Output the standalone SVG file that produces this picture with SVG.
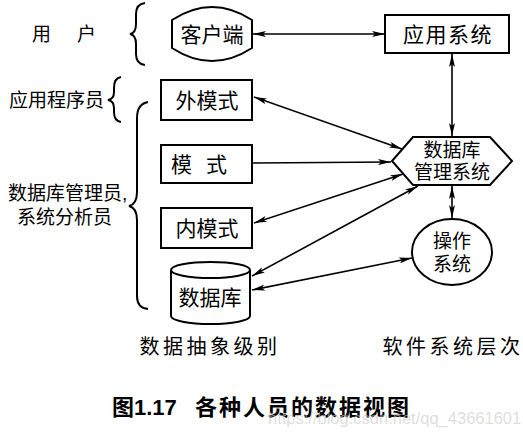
<svg xmlns="http://www.w3.org/2000/svg" width="523" height="435" viewBox="0 0 523 435">
<defs>
<marker id="ah" viewBox="0 0 13 6" refX="13" refY="3" markerWidth="13" markerHeight="6" markerUnits="userSpaceOnUse" orient="auto-start-reverse">
<path d="M0,0 L13,3 L0,6 L3,3 Z" fill="#000"/>
</marker>
</defs>
<style>
.s{fill:#fff;stroke:#000;stroke-width:2}
.t{font-family:"Liberation Sans","Noto Sans CJK SC",sans-serif;font-size:21px;fill:#000;text-anchor:middle;dominant-baseline:central}
.m{font-size:19px}
.l{font-family:"Liberation Sans","Noto Sans CJK SC",sans-serif;font-size:19px;fill:#000;dominant-baseline:central}
.b{fill:none;stroke:#000;stroke-width:2}
.c line{stroke:#000;stroke-width:1.6;marker-end:url(#ah)}
.c line.d{marker-start:url(#ah)}
</style>
<rect width="523" height="435" fill="#fff"/>
<g id="labels">
<text class="l" x="32" y="34" font-size="20">用</text>
<text class="l" x="77" y="34" font-size="20">户</text>
<text class="l" x="9" y="100">应用程序员</text>
<text class="l" x="8" y="193">数据库管理员,</text>
<text class="l" x="17" y="217">系统分析员</text>
<text class="t" x="210" y="347" font-size="20" style="font-size:20px;letter-spacing:3.5px">数据抽象级别</text>
<text class="t" x="453" y="347" style="font-size:20px;letter-spacing:3.5px">软件系统层次</text>
<text x="112" y="407" style="font-family:'Liberation Sans','Noto Sans CJK SC',sans-serif;font-size:22px;font-weight:bold;dominant-baseline:central">图1.17</text>
<text x="195" y="407" style="font-family:'Liberation Sans','Noto Sans CJK SC',sans-serif;font-size:22px;font-weight:bold;letter-spacing:2px;dominant-baseline:central">各种人员的数据视图</text>
<text x="268" y="418" style="font-family:'Liberation Sans',sans-serif;font-size:16.5px;fill:#c8c8c8;fill-opacity:0.6;dominant-baseline:central">https://blog.csdn.net/qq_43661601</text>
</g>
<g id="braces">
<path class="b" d="M145,3 Q136,4 136,14 L136,24 Q136,33 130,34 Q136,35 136,44 L136,54 Q136,64 145,65"/>
<path class="b" d="M121,77 Q114,78 114,88 L114,92 Q114,99 108,100 Q114,101 114,108 L114,112 Q114,121 121,122"/>
<path class="b" d="M148,102 Q137,104 137,118 L137,192 Q137,204 129,206 Q137,208 137,220 L137,296 Q137,308 148,309"/>
</g>
<g id="n_client"><path class="s" d="M172,20 Q212,-6 252,20 L252,48 Q212,74 172,48 Z"/><text class="t" x="212" y="34">客户端</text></g>
<g id="n_app"><rect class="s" x="385" y="15" width="124" height="38"/><text class="t" x="448" y="34" style="letter-spacing:1.5px">应用系统</text></g>
<g id="n_ext"><rect class="s" x="161" y="80" width="91" height="40"/><text class="t" x="207" y="100">外模式</text></g>
<g id="n_schema"><rect class="s" x="161" y="145" width="91" height="38"/><text class="t" x="206" y="164" style="letter-spacing:14px">模式</text></g>
<g id="n_int"><rect class="s" x="161" y="208" width="91" height="40"/><text class="t" x="207" y="228">内模式</text></g>
<g id="n_db"><path class="s" d="M171,270 L171,316 A39.5,8 0 0 0 250,316 L250,270"/><ellipse class="s" cx="210.5" cy="270" rx="39.5" ry="8"/><text class="t" x="210" y="297">数据库</text></g>
<g id="n_dbms"><polygon class="s" points="392,161 413,137 490,137 512,161 490,185 413,185"/><text class="t m" x="452" y="150">数据库</text><text class="t m" x="452" y="172">管理系统</text></g>
<g id="n_os"><ellipse class="s" cx="452" cy="252" rx="40" ry="33"/><text class="t m" x="452" y="241">操作</text><text class="t m" x="452" y="264">系统</text></g>
<g id="connectors" class="c">
<line class="d" x1="253" y1="34" x2="385" y2="34"/>
<line class="d" x1="452" y1="54" x2="452" y2="136"/>
<line class="d" x1="254" y1="97" x2="402" y2="149"/>
<line x1="252" y1="163" x2="391" y2="162"/>
<line class="d" x1="254" y1="223" x2="403" y2="174"/>
<line class="d" x1="252" y1="276" x2="418" y2="186"/>
<line class="d" x1="252" y1="290" x2="412" y2="258"/>
<line class="d" x1="452" y1="186" x2="452" y2="218"/>
</g>
</svg>
